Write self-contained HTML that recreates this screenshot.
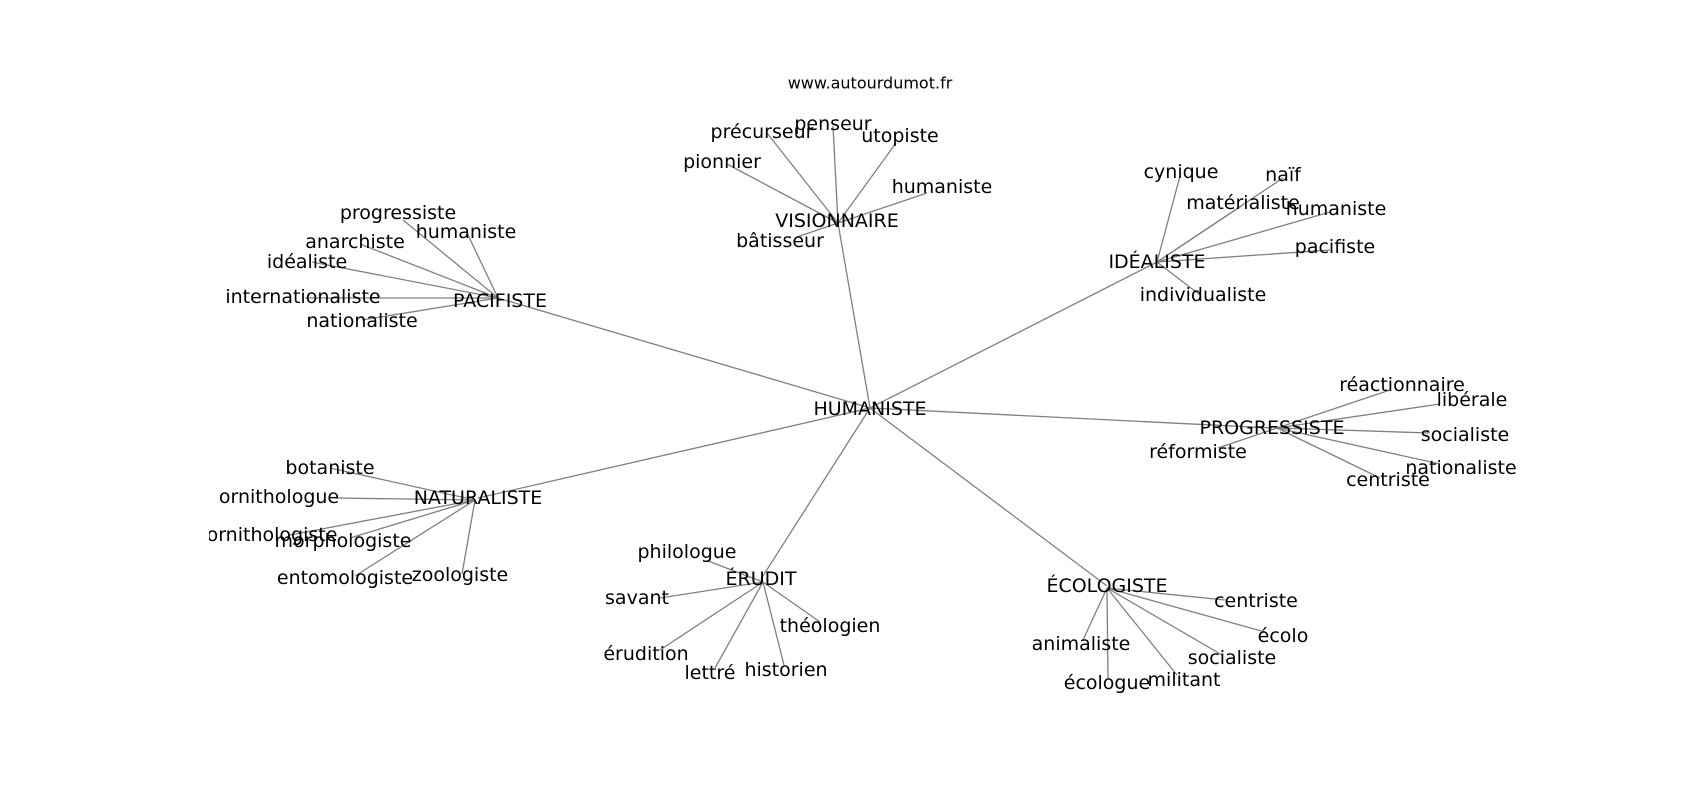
<!DOCTYPE html>
<html><head><meta charset="utf-8"><style>
html,body{margin:0;padding:0;background:#fff;}
svg{display:block;}
text{font-family:"DejaVu Sans","Liberation Sans",sans-serif;font-size:19px;fill:#000;text-anchor:middle;dominant-baseline:central;}
line{stroke:#808080;stroke-width:1.3;}
</style></head><body>
<svg width="1700" height="800" viewBox="0 0 1700 800" xmlns="http://www.w3.org/2000/svg">
<defs><clipPath id="c"><rect x="209" y="0" width="1400" height="800"/></clipPath></defs>
<g clip-path="url(#c)">
<line x1="870" y1="408" x2="838" y2="223"/>
<line x1="870" y1="408" x2="498" y2="298"/>
<line x1="870" y1="408" x2="1157" y2="262"/>
<line x1="870" y1="408" x2="1272" y2="428"/>
<line x1="870" y1="408" x2="478" y2="498"/>
<line x1="870" y1="408" x2="761" y2="579"/>
<line x1="870" y1="408" x2="1107" y2="586"/>
<line x1="838" y1="223" x2="767" y2="133"/>
<line x1="838" y1="223" x2="833" y2="126"/>
<line x1="838" y1="223" x2="896" y2="143"/>
<line x1="838" y1="223" x2="727" y2="164"/>
<line x1="838" y1="223" x2="927" y2="193"/>
<line x1="838" y1="223" x2="797" y2="237"/>
<line x1="498" y1="298" x2="403" y2="220"/>
<line x1="498" y1="298" x2="468" y2="235"/>
<line x1="498" y1="298" x2="360" y2="244"/>
<line x1="498" y1="298" x2="312" y2="262"/>
<line x1="498" y1="298" x2="305" y2="298"/>
<line x1="498" y1="298" x2="362" y2="320"/>
<line x1="1157" y1="262" x2="1180" y2="176"/>
<line x1="1157" y1="262" x2="1283" y2="178"/>
<line x1="1157" y1="262" x2="1243" y2="205"/>
<line x1="1157" y1="262" x2="1330" y2="212"/>
<line x1="1157" y1="262" x2="1330" y2="250"/>
<line x1="1157" y1="262" x2="1200" y2="295"/>
<line x1="1277" y1="428" x2="1390" y2="390"/>
<line x1="1277" y1="428" x2="1440" y2="404"/>
<line x1="1277" y1="428" x2="1430" y2="433"/>
<line x1="1277" y1="428" x2="1218" y2="448"/>
<line x1="1277" y1="428" x2="1440" y2="464"/>
<line x1="1277" y1="428" x2="1380" y2="478"/>
<line x1="475" y1="500" x2="330" y2="468"/>
<line x1="475" y1="500" x2="335" y2="498"/>
<line x1="475" y1="500" x2="290" y2="535"/>
<line x1="475" y1="500" x2="350" y2="538"/>
<line x1="475" y1="500" x2="355" y2="576"/>
<line x1="475" y1="500" x2="462" y2="574"/>
<line x1="763" y1="582" x2="708" y2="561"/>
<line x1="763" y1="582" x2="660" y2="598"/>
<line x1="763" y1="582" x2="820" y2="622"/>
<line x1="763" y1="582" x2="660" y2="650"/>
<line x1="763" y1="582" x2="715" y2="668"/>
<line x1="763" y1="582" x2="784" y2="665"/>
<line x1="1107" y1="588" x2="1225" y2="600"/>
<line x1="1107" y1="588" x2="1265" y2="632"/>
<line x1="1107" y1="588" x2="1083" y2="640"/>
<line x1="1107" y1="588" x2="1222" y2="655"/>
<line x1="1107" y1="588" x2="1108" y2="678"/>
<line x1="1107" y1="588" x2="1177" y2="675"/>

<text x="870" y="83" style="font-size:16px">www.autourdumot.fr</text>
<text x="870" y="409">HUMANISTE</text>
<text x="837" y="221">VISIONNAIRE</text>
<text x="762" y="132">précurseur</text>
<text x="833" y="124">penseur</text>
<text x="900" y="136">utopiste</text>
<text x="722" y="162">pionnier</text>
<text x="942" y="187">humaniste</text>
<text x="780" y="241">bâtisseur</text>
<text x="500" y="301">PACIFISTE</text>
<text x="398" y="213">progressiste</text>
<text x="466" y="232">humaniste</text>
<text x="355" y="242">anarchiste</text>
<text x="307" y="262">idéaliste</text>
<text x="303" y="297">internationaliste</text>
<text x="362" y="321">nationaliste</text>
<text x="1157" y="262">IDÉALISTE</text>
<text x="1181" y="172">cynique</text>
<text x="1283" y="175">naïf</text>
<text x="1243" y="203">matérialiste</text>
<text x="1336" y="209">humaniste</text>
<text x="1335" y="247">pacifiste</text>
<text x="1203" y="295">individualiste</text>
<text x="1272" y="428">PROGRESSISTE</text>
<text x="1402" y="385">réactionnaire</text>
<text x="1472" y="400">libérale</text>
<text x="1465" y="435">socialiste</text>
<text x="1198" y="452">réformiste</text>
<text x="1461" y="468">nationaliste</text>
<text x="1388" y="480">centriste</text>
<text x="478" y="498">NATURALISTE</text>
<text x="330" y="468">botaniste</text>
<text x="279" y="497">ornithologue</text>
<text x="272" y="535">ornithologiste</text>
<text x="343" y="541">morphologiste</text>
<text x="345" y="578">entomologiste</text>
<text x="460" y="575">zoologiste</text>
<text x="761" y="579">ÉRUDIT</text>
<text x="687" y="552">philologue</text>
<text x="637" y="598">savant</text>
<text x="830" y="626">théologien</text>
<text x="646" y="654">érudition</text>
<text x="710" y="673">lettré</text>
<text x="786" y="670">historien</text>
<text x="1107" y="586">ÉCOLOGISTE</text>
<text x="1256" y="601">centriste</text>
<text x="1283" y="636">écolo</text>
<text x="1081" y="644">animaliste</text>
<text x="1232" y="658">socialiste</text>
<text x="1107" y="683">écologue</text>
<text x="1184" y="680">militant</text>
</g>
</svg>
</body></html>
